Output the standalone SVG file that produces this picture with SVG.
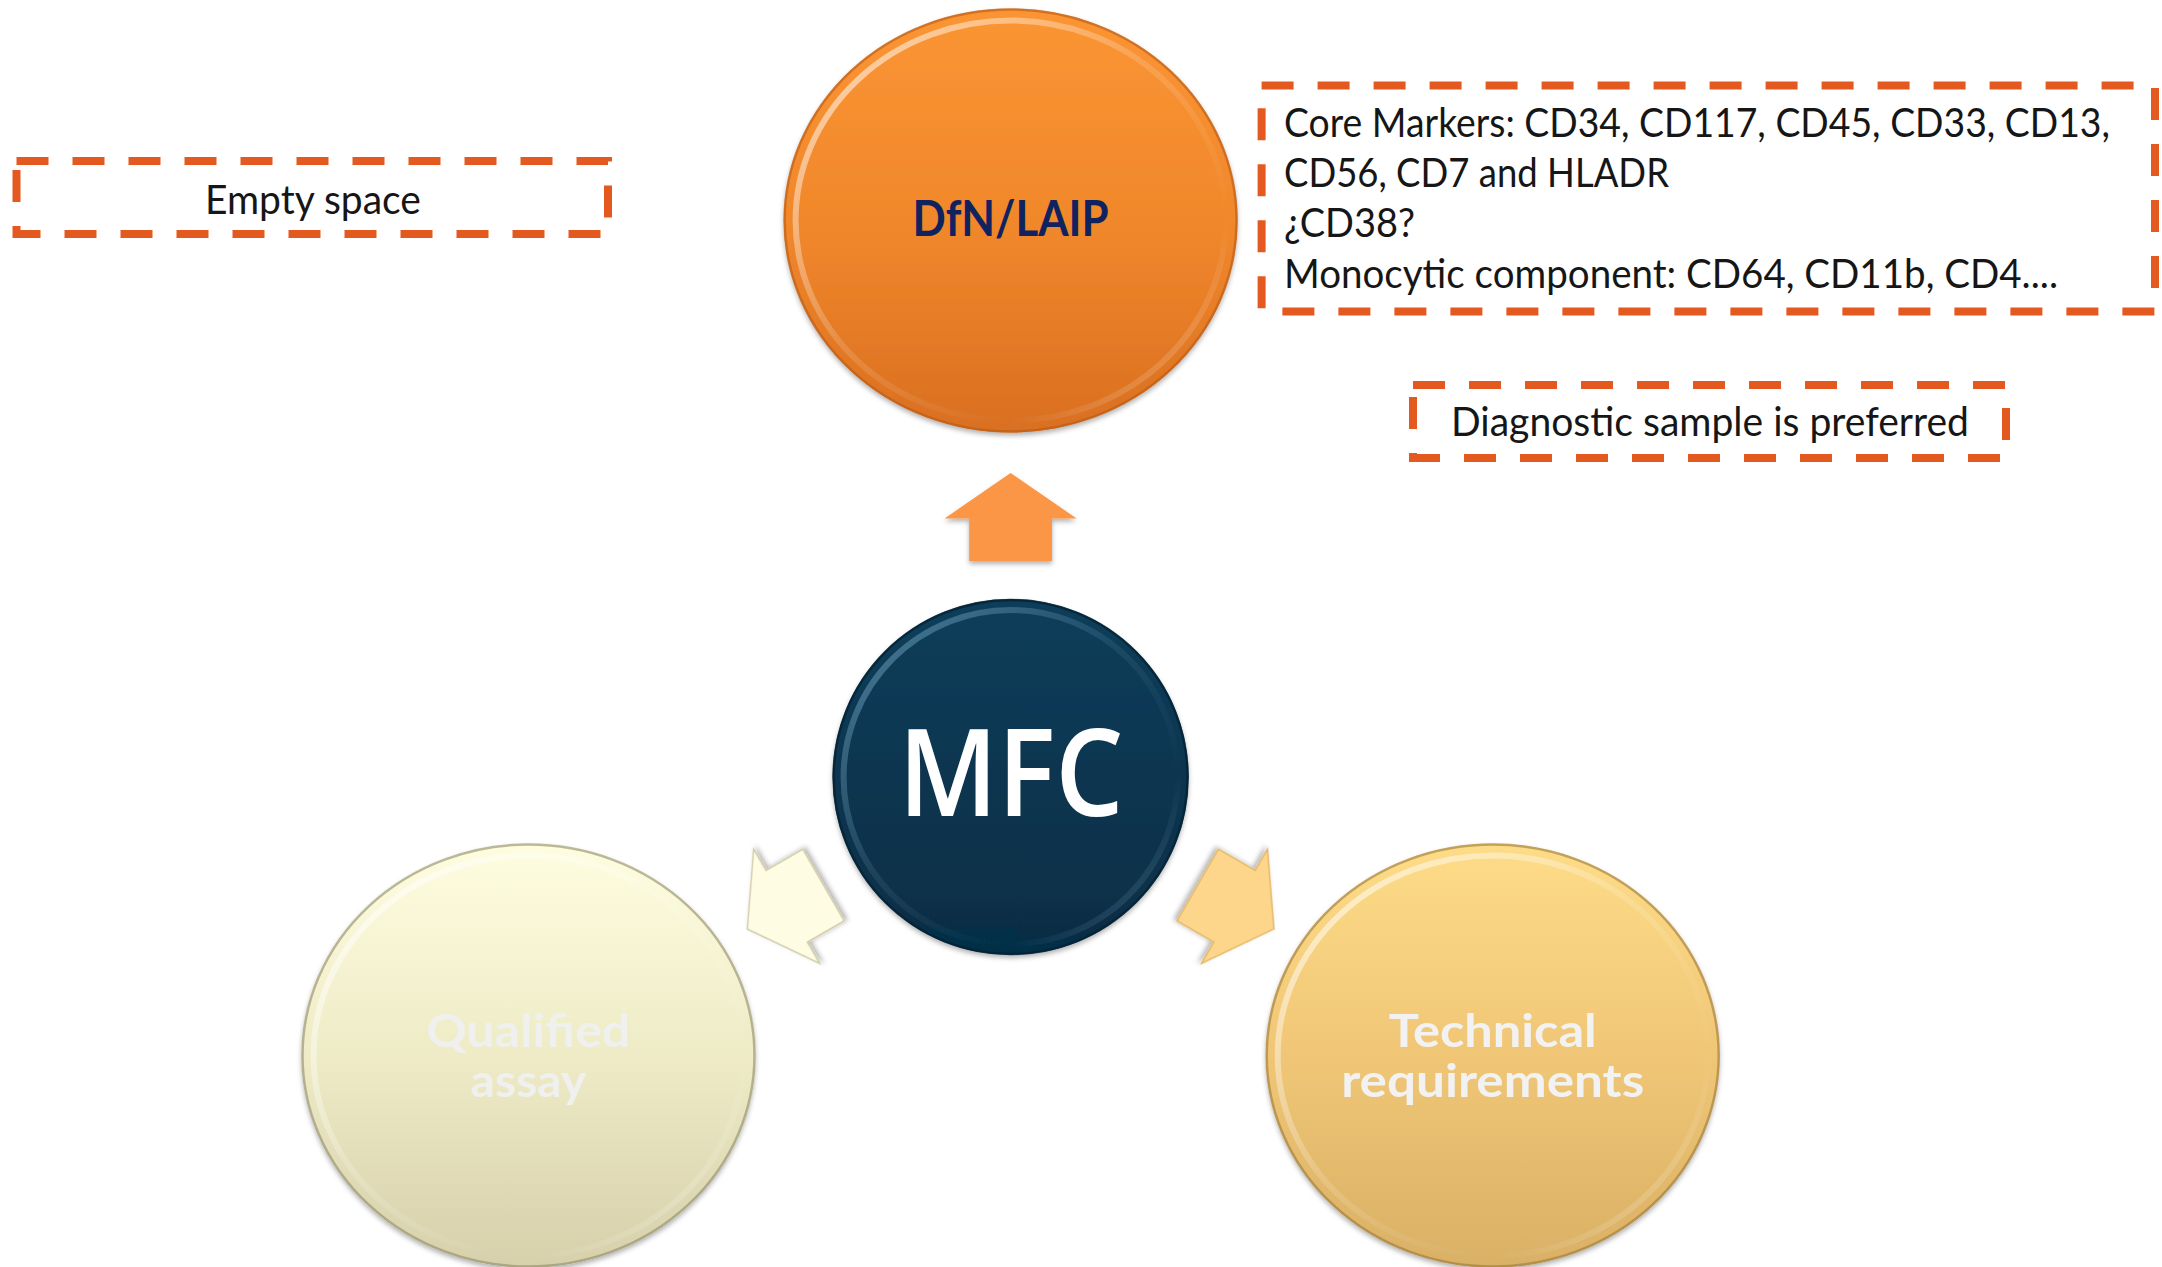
<svg xmlns="http://www.w3.org/2000/svg" xmlns:xlink="http://www.w3.org/1999/xlink" width="2162" height="1267" viewBox="0 0 2162 1267">
<style>
.note{fill:none;stroke:#e4591f;stroke-width:8;stroke-dasharray:32 24;}
.ntxt{font-family:Lato,"Open Sans","DejaVu Sans",sans-serif;font-size:40px;fill:#161616;}
.rim{fill:none;stroke-width:6;}
.edge{fill:none;stroke-width:2.5;}
.big{font-family:Lato,"Open Sans","DejaVu Sans",sans-serif;}
</style>
<defs>
<linearGradient id="gOrange" x1="0" y1="0" x2="0" y2="1">
<stop offset="0" stop-color="#fb9533"/><stop offset="0.55" stop-color="#ef862b"/><stop offset="1" stop-color="#d96f20"/>
</linearGradient>
<linearGradient id="gNavy" x1="0" y1="0" x2="0" y2="1">
<stop offset="0" stop-color="#0e3e5a"/><stop offset="1" stop-color="#062d45"/>
</linearGradient>
<linearGradient id="gCream" x1="0" y1="0" x2="0" y2="1">
<stop offset="0" stop-color="#fefde0"/><stop offset="0.5" stop-color="#eeebc6"/><stop offset="1" stop-color="#d6d0ab"/>
</linearGradient>
<linearGradient id="gGold" x1="0" y1="0" x2="0" y2="1">
<stop offset="0" stop-color="#fddc88"/><stop offset="0.5" stop-color="#f0c676"/><stop offset="1" stop-color="#d9b065"/>
</linearGradient>
<linearGradient id="gRim" x1="0" y1="0" x2="1" y2="1">
<stop offset="0" stop-color="#ffffff" stop-opacity="0.7"/><stop offset="0.45" stop-color="#ffffff" stop-opacity="0.15"/><stop offset="0.75" stop-color="#ffffff" stop-opacity="0"/><stop offset="1" stop-color="#ffffff" stop-opacity="0.35"/>
</linearGradient>
<linearGradient id="gRimNavy" x1="0" y1="0" x2="1" y2="1">
<stop offset="0" stop-color="#6a9cb8" stop-opacity="0.7"/><stop offset="0.45" stop-color="#6a9cb8" stop-opacity="0.15"/><stop offset="0.75" stop-color="#6a9cb8" stop-opacity="0"/><stop offset="1" stop-color="#6a9cb8" stop-opacity="0.45"/>
</linearGradient>
<filter id="sh" x="-20%" y="-20%" width="140%" height="140%">
<feDropShadow dx="0" dy="3" stdDeviation="2.5" flood-color="#000" flood-opacity="0.3"/>
</filter>
<polygon id="arrowUp" points="1010.6,473 1076.6,518.4 1052,518.4 1052,561 969.2,561 969.2,518.4 944.6,518.4"/>
</defs>
<rect width="2162" height="1267" fill="#ffffff"/>

<g id="connectors">
<use xlink:href="#arrowUp" fill="#fc9646" filter="url(#sh)"/>
<use xlink:href="#arrowUp" transform="rotate(-120 1010.6 777)" fill="#fefce3" stroke="#cfcaa6" stroke-width="1.5" filter="url(#sh)"/>
<use xlink:href="#arrowUp" transform="rotate(120 1010.6 777)" fill="#fdd58b" stroke="#e2b867" stroke-width="1.5" filter="url(#sh)"/>
</g>

<g id="node-dfn">
<ellipse cx="1010.6" cy="220.5" rx="227" ry="212" fill="url(#gOrange)" filter="url(#sh)"/>
<ellipse cx="1010.6" cy="220.5" rx="215" ry="200" class="rim" stroke="url(#gRim)"/>
<ellipse cx="1010.6" cy="220.5" rx="226" ry="211" class="edge" stroke="#b85a17" stroke-opacity="0.6"/>
<text x="1010.6" y="236" text-anchor="middle" class="big" font-size="50" font-weight="700" fill="#10235f" textLength="196" lengthAdjust="spacingAndGlyphs">DfN/LAIP</text>
</g>

<g id="node-mfc">
<circle cx="1010.6" cy="777" r="178" fill="url(#gNavy)" filter="url(#sh)"/>
<circle cx="1010.6" cy="777" r="167" class="rim" stroke="url(#gRimNavy)"/>
<circle cx="1010.6" cy="777" r="177" class="edge" stroke="#042234" stroke-opacity="0.8"/>
<text x="1011" y="816" text-anchor="middle" font-family="'Open Sans',Lato,sans-serif" font-size="122" font-weight="600" fill="#ffffff" textLength="225" lengthAdjust="spacingAndGlyphs">MFC</text>
</g>

<g id="node-qualified">
<ellipse cx="528.5" cy="1055.5" rx="227" ry="212" fill="url(#gCream)" filter="url(#sh)"/>
<ellipse cx="528.5" cy="1055.5" rx="215" ry="200" class="rim" stroke="url(#gRim)"/>
<ellipse cx="528.5" cy="1055.5" rx="226" ry="211" class="edge" stroke="#8f8a68" stroke-opacity="0.6"/>
<text x="528.5" y="1047" text-anchor="middle" class="big" font-size="46" font-weight="700" fill="#f0f0ee" textLength="204" lengthAdjust="spacingAndGlyphs">Qualified</text>
<text x="528.5" y="1097" text-anchor="middle" class="big" font-size="46" font-weight="700" fill="#f0f0ee" textLength="116" lengthAdjust="spacingAndGlyphs">assay</text>
</g>

<g id="node-technical">
<ellipse cx="1492.7" cy="1055.5" rx="227" ry="212" fill="url(#gGold)" filter="url(#sh)"/>
<ellipse cx="1492.7" cy="1055.5" rx="215" ry="200" class="rim" stroke="url(#gRim)"/>
<ellipse cx="1492.7" cy="1055.5" rx="226" ry="211" class="edge" stroke="#9c7a35" stroke-opacity="0.6"/>
<text x="1492.7" y="1047" text-anchor="middle" class="big" font-size="46" font-weight="700" fill="#f2f2f2" textLength="208" lengthAdjust="spacingAndGlyphs">Technical</text>
<text x="1492.7" y="1097" text-anchor="middle" class="big" font-size="46" font-weight="700" fill="#f2f2f2" textLength="303" lengthAdjust="spacingAndGlyphs">requirements</text>
</g>

<g id="note-empty">
<rect x="16.5" y="161" width="591.5" height="73" class="note"/>
<text x="313" y="214" text-anchor="middle" class="ntxt" textLength="216" lengthAdjust="spacingAndGlyphs">Empty space</text>
</g>

<g id="note-markers">
<rect x="1261.6" y="85.5" width="893.4" height="226" class="note"/>
<text x="1284" y="137" class="ntxt" textLength="826" lengthAdjust="spacingAndGlyphs">Core Markers: CD34, CD117, CD45, CD33, CD13,</text>
<text x="1284" y="187" class="ntxt" textLength="385" lengthAdjust="spacingAndGlyphs">CD56, CD7 and HLADR</text>
<text x="1284" y="237" class="ntxt" textLength="131" lengthAdjust="spacingAndGlyphs">¿CD38?</text>
<text x="1284" y="288" class="ntxt" textLength="774" lengthAdjust="spacingAndGlyphs">Monocytic component: CD64, CD11b, CD4....</text>
</g>

<g id="note-diagnostic">
<rect x="1413" y="385" width="593" height="73" class="note"/>
<text x="1710" y="436" text-anchor="middle" class="ntxt" textLength="518" lengthAdjust="spacingAndGlyphs">Diagnostic sample is preferred</text>
</g>
</svg>
